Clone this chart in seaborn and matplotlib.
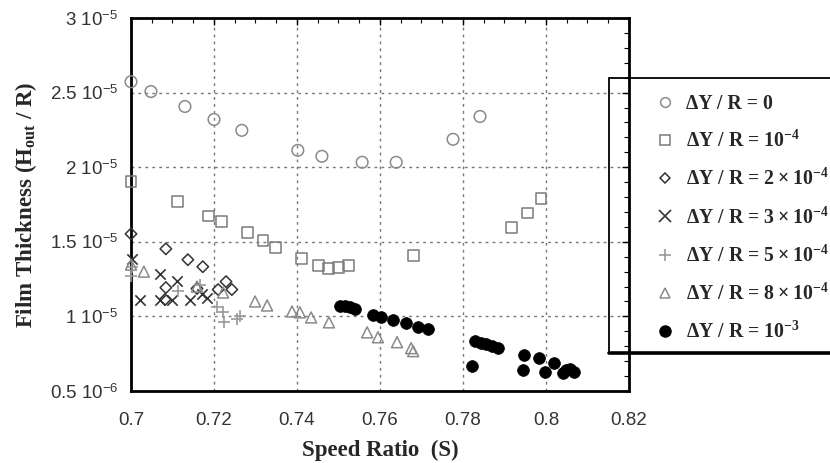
import numpy as np
import pandas as pd
import matplotlib
matplotlib.use("Agg")
import matplotlib.pyplot as plt
from matplotlib.lines import Line2D
from matplotlib.patches import Rectangle
import seaborn as sns

# ---------------- data (film thickness in units of 1e-5) ----------------
s_0 = [0.7, 0.7048, 0.7130, 0.7200, 0.7267, 0.7402, 0.7460, 0.7557, 0.7639, 0.7776, 0.7841]
h_0 = [2.573, 2.507, 2.407, 2.320, 2.247, 2.113, 2.073, 2.033, 2.033, 2.187, 2.340]

s_1e4 = [0.7, 0.7113, 0.7186, 0.7217, 0.7280, 0.7318, 0.7349, 0.7410, 0.7451, 0.7477,
         0.7499, 0.7525, 0.7680, 0.7916, 0.7955, 0.7988]
h_1e4 = [1.907, 1.767, 1.673, 1.633, 1.560, 1.507, 1.460, 1.387, 1.340, 1.320,
         1.327, 1.340, 1.407, 1.593, 1.693, 1.793]

s_2e4 = [0.7, 0.7084, 0.7137, 0.7173, 0.7084, 0.7082, 0.7159, 0.7210, 0.7229, 0.7243]
h_2e4 = [1.553, 1.453, 1.380, 1.333, 1.193, 1.113, 1.187, 1.180, 1.233, 1.180]

s_3e4 = [0.7002, 0.7022, 0.7070, 0.7070, 0.7099, 0.7111, 0.7142, 0.7171, 0.7183]
h_3e4 = [1.387, 1.107, 1.287, 1.107, 1.107, 1.240, 1.107, 1.153, 1.120]

s_5e4 = [0.7002, 0.7, 0.7113, 0.7166, 0.7207, 0.7222, 0.7224, 0.7255, 0.7263]
h_5e4 = [1.333, 1.273, 1.167, 1.213, 1.060, 1.027, 0.960, 0.980, 1.000]

s_8e4 = [0.7, 0.7031, 0.7159, 0.7222, 0.7299, 0.7328, 0.7388, 0.7407, 0.7434, 0.7477,
         0.7569, 0.7595, 0.7641, 0.7675, 0.7680]
h_8e4 = [1.347, 1.300, 1.200, 1.160, 1.100, 1.073, 1.033, 1.027, 0.993, 0.960,
         0.893, 0.860, 0.827, 0.787, 0.767]

s_1e3 = [0.7504, 0.7516, 0.7528, 0.7540, 0.7583, 0.7602, 0.7631, 0.7663, 0.7692, 0.7716,
         0.7822, 0.7829, 0.7843, 0.7855, 0.7870, 0.7884, 0.7945, 0.7947, 0.7983, 0.7998,
         0.8019, 0.8041, 0.8048, 0.8058, 0.8067]
h_1e3 = [1.073, 1.067, 1.060, 1.047, 1.007, 0.993, 0.973, 0.953, 0.927, 0.913,
         0.667, 0.833, 0.820, 0.813, 0.800, 0.787, 0.640, 0.740, 0.720, 0.627,
         0.687, 0.620, 0.640, 0.647, 0.627]

legend_labels = [
    "ΔY / R = 0",
    r"ΔY / R = 10$^{\mathrm{-4}}$",
    "ΔY / R = 2\u2009×\u200910$^{\\mathrm{-4}}$",
    "ΔY / R = 3\u2009×\u200910$^{\\mathrm{-4}}$",
    "ΔY / R = 5\u2009×\u200910$^{\\mathrm{-4}}$",
    "ΔY / R = 8\u2009×\u200910$^{\\mathrm{-4}}$",
    r"ΔY / R = 10$^{\mathrm{-3}}$",
]
x_ticks = [0.7, 0.72, 0.74, 0.76, 0.78, 0.8, 0.82]
x_tick_labels = ["0.7", "0.72", "0.74", "0.76", "0.78", "0.8", "0.82"]
y_ticks_e5 = [0.5, 1.0, 1.5, 2.0, 2.5, 3.0]
y_tick_labels = [r"0.5 10$^{\mathsf{-6}}$", r"1 10$^{\mathsf{-5}}$", r"1.5 10$^{\mathsf{-5}}$",
                 r"2 10$^{\mathsf{-5}}$", r"2.5 10$^{\mathsf{-5}}$", r"3 10$^{\mathsf{-5}}$"]

# ---------------- style ----------------
sns.set_theme(style="white")
plt.rcParams["font.family"] = ["Liberation Serif", "DejaVu Serif"]
plt.rcParams["mathtext.fontset"] = "custom"
plt.rcParams["mathtext.rm"] = "Liberation Serif:bold"
plt.rcParams["mathtext.bf"] = "Liberation Serif:bold"
plt.rcParams["mathtext.it"] = "Liberation Serif:italic:bold"
plt.rcParams["mathtext.sf"] = "Liberation Sans"

fig = plt.figure(figsize=(8.3, 4.63), dpi=100)
ax = fig.add_axes([131 / 830, 1 - 391 / 463, 498 / 830, 373 / 463])

series = [
    (s_0, h_0, "o", 70, "#8a8a8a", True),
    (s_1e4, h_1e4, "s", 62, "#7a7a7a", True),
    (s_2e4, h_2e4, "D", 34, "#333333", True),
    (s_3e4, h_3e4, "x", 55, "#333333", False),
    (s_5e4, h_5e4, "+", 65, "#9a9a9a", False),
    (s_8e4, h_8e4, "^", 62, "#8a8a8a", True),
    (s_1e3, h_1e3, "o", 72, "#000000", None),
]

for xs, hs, mk, size, col, hollow in series:
    df = pd.DataFrame({"S": xs, "H": np.array(hs) * 1e-5})
    if hollow is True:
        sns.scatterplot(data=df, x="S", y="H", ax=ax, marker=mk, s=size,
                        facecolors="none", edgecolor=col, linewidth=1.1, zorder=3,
                        clip_on=False)
    elif hollow is False:
        sns.scatterplot(data=df, x="S", y="H", ax=ax, marker=mk, s=size,
                        color=col, linewidth=1.2, zorder=3, clip_on=False)
    else:
        sns.scatterplot(data=df, x="S", y="H", ax=ax, marker=mk, s=size,
                        color=col, edgecolor=col, linewidth=0.5, zorder=3, clip_on=False)

ax.set_xlim(0.7, 0.82)
ax.set_ylim(0.5e-5, 3.0e-5)
ax.set_xticks(x_ticks)
ax.set_xticklabels(x_tick_labels)
ax.set_yticks(np.array(y_ticks_e5) * 1e-5)
ax.set_yticklabels(y_tick_labels)
ax.set_xticks(np.arange(0.7, 0.8201, 0.005), minor=True)
ax.set_yticks(np.arange(0.5, 3.001, 0.1) * 1e-5, minor=True)

ax.grid(True, which="major", color="#777777", linestyle=(0, (2, 3)), linewidth=1.0)
ax.set_axisbelow(True)

for sp in ax.spines.values():
    sp.set_color("black")
    sp.set_linewidth(2.0)

ax.tick_params(which="both", direction="in", top=True, right=True, color="black",
               labelcolor="#333333", labelsize=13.5, labelfontfamily="Liberation Sans")
ax.tick_params(which="major", length=5, width=1.0)
ax.tick_params(which="minor", length=3.5, width=0.8)
ax.tick_params(axis="x", pad=15)
ax.tick_params(axis="y", pad=9)

ax.set_xlabel("Speed Ratio  (S)", fontsize=16.5, fontweight="bold", labelpad=8)
ax.set_ylabel(r"Film Thickness (H$_{\mathrm{out}}$ / R)", fontsize=16.5, fontweight="bold", labelpad=8)

# legend
handles = []
for xs, hs, mk, size, col, hollow in series:
    if hollow is True:
        h = Line2D([], [], linestyle="none", marker=mk, markersize=7 if mk != "D" else 5,
                   markerfacecolor="none", markeredgecolor=col, markeredgewidth=1.1)
    elif hollow is False:
        h = Line2D([], [], linestyle="none", marker=mk, markersize=8,
                   color=col, markeredgewidth=1.2)
    else:
        h = Line2D([], [], linestyle="none", marker=mk, markersize=8,
                   markerfacecolor=col, markeredgecolor=col)
    handles.append(h)

fig.legend(handles, legend_labels, loc="upper left",
           bbox_to_anchor=(645 / 830, 1 - 84 / 463), frameon=False, borderpad=0,
           handlelength=1.0, handletextpad=0.6, labelspacing=0.86,
           prop={"family": "Liberation Serif", "weight": "bold", "size": 14.2})

fig.add_artist(Rectangle((609 / 830, 1 - 353 / 463), 240 / 830, 275 / 463,
                         transform=fig.transFigure, fill=False, edgecolor="black",
                         linewidth=1.3, clip_on=False))
fig.add_artist(Line2D([609 / 830, 1.0], [1 - 353 / 463, 1 - 353 / 463],
                      transform=fig.transFigure, color="black", linewidth=2.6))

fig.savefig("out.png", dpi=100)
